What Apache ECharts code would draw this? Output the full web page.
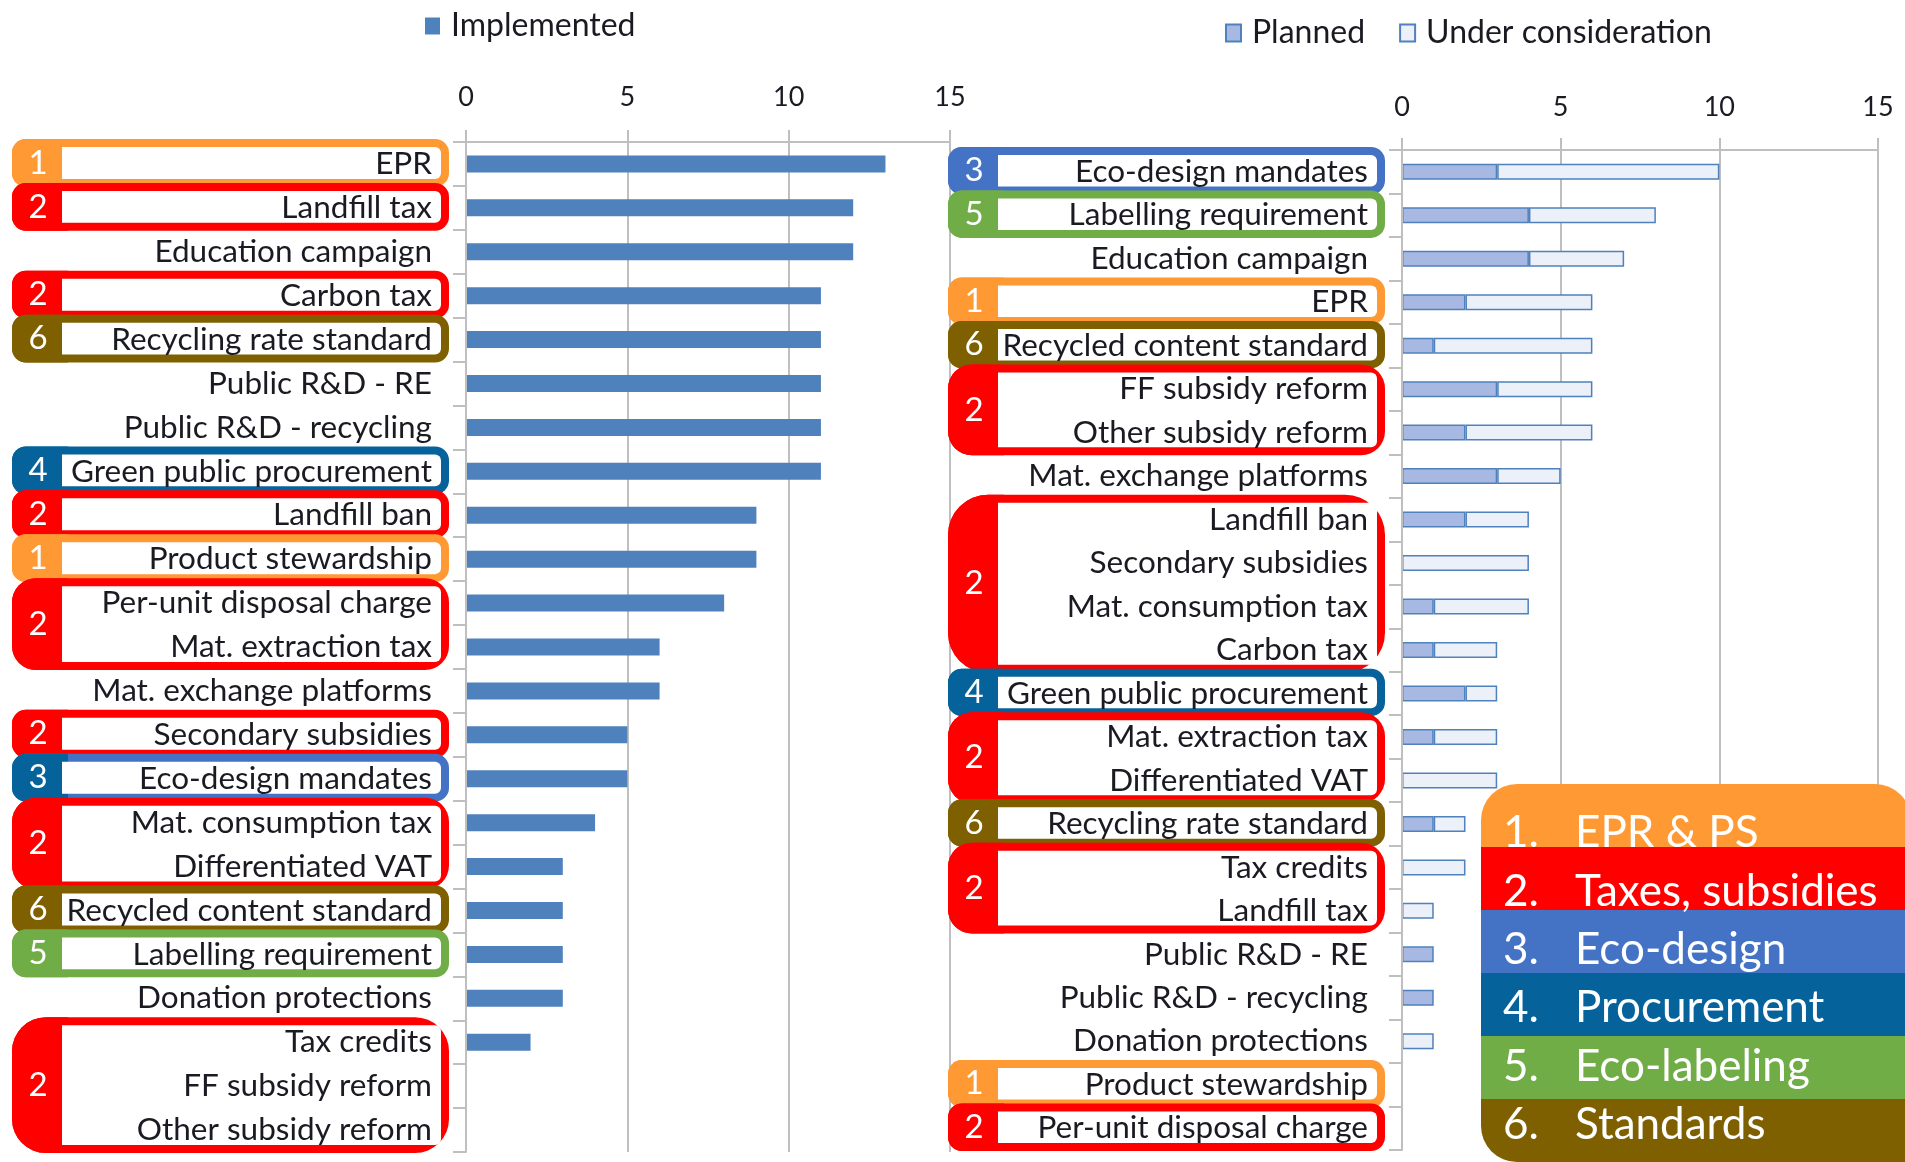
<!DOCTYPE html>
<html><head><meta charset="utf-8">
<script src="https://cdn.jsdelivr.net/npm/echarts@6/dist/echarts.min.js"></script>
<style>html,body{margin:0;padding:0;background:#fff}#c{width:1905px;height:1162px}</style>
</head><body><div id="c"></div><script>
// ---------- DATA ----------
const leftCategories = ['EPR','Landfill tax','Education campaign','Carbon tax','Recycling rate standard','Public R&D - RE','Public R&D - recycling','Green public procurement','Landfill ban','Product stewardship','Per-unit disposal charge','Mat. extraction tax','Mat. exchange platforms','Secondary subsidies','Eco-design mandates','Mat. consumption tax','Differentiated VAT','Recycled content standard','Labelling requirement','Donation protections','Tax credits','FF subsidy reform','Other subsidy reform'];
const implemented = [13,12,12,11,11,11,11,11,9,9,8,6,6,5,5,4,3,3,3,3,2,0,0];

const rightCategories = ['Eco-design mandates','Labelling requirement','Education campaign','EPR','Recycled content standard','FF subsidy reform','Other subsidy reform','Mat. exchange platforms','Landfill ban','Secondary subsidies','Mat. consumption tax','Carbon tax','Green public procurement','Mat. extraction tax','Differentiated VAT','Recycling rate standard','Tax credits','Landfill tax','Public R&D - RE','Public R&D - recycling','Donation protections','Product stewardship','Per-unit disposal charge'];
const planned            = [3,4,4,2,1,3,2,3,2,0,1,1,2,1,0,1,0,0,1,1,0,0,0];
const underConsideration = [7,4,3,4,5,3,4,2,2,4,3,2,1,2,3,1,2,1,0,0,1,0,0];

const axisMin = 0, axisMax = 15, axisInterval = 5;

const groupNames = ['EPR & PS','Taxes, subsidies','Eco-design','Procurement','Eco-labeling','Standards'];
// [first category, last category, group number, (optional) tab group number]
const leftGroups = [
  ['EPR','EPR',1],
  ['Landfill tax','Landfill tax',2],
  ['Carbon tax','Carbon tax',2],
  ['Recycling rate standard','Recycling rate standard',6],
  ['Green public procurement','Green public procurement',4],
  ['Landfill ban','Landfill ban',2],
  ['Product stewardship','Product stewardship',1],
  ['Per-unit disposal charge','Mat. extraction tax',2],
  ['Secondary subsidies','Secondary subsidies',2],
  ['Eco-design mandates','Eco-design mandates',3,4],
  ['Mat. consumption tax','Differentiated VAT',2],
  ['Recycled content standard','Recycled content standard',6],
  ['Labelling requirement','Labelling requirement',5],
  ['Tax credits','Other subsidy reform',2]
];
const rightGroups = [
  ['Eco-design mandates','Eco-design mandates',3],
  ['Labelling requirement','Labelling requirement',5],
  ['EPR','EPR',1],
  ['Recycled content standard','Recycled content standard',6],
  ['FF subsidy reform','Other subsidy reform',2],
  ['Landfill ban','Carbon tax',2],
  ['Green public procurement','Green public procurement',4],
  ['Mat. extraction tax','Differentiated VAT',2],
  ['Recycling rate standard','Recycling rate standard',6],
  ['Tax credits','Landfill tax',2],
  ['Product stewardship','Product stewardship',1],
  ['Per-unit disposal charge','Per-unit disposal charge',2]
];

// ---------- STYLE ----------
const FONT = 'Lato';
const TEXT = '#1a1a22';
const GRIDC = '#BFBFBF';
const groupColors = ['#FF9933','#FF0000','#4472C4','#05629A','#70AD47','#7F6000'];

const chart = echarts.init(document.getElementById('c'), null, {renderer:'canvas'});

function xAxisCfg(gi, margin){
  return {
    type:'value', gridIndex:gi, position:'top', min:axisMin, max:axisMax, interval:axisInterval,
    axisLine:{show:true, lineStyle:{color:GRIDC, width:2}},
    axisTick:{show:true, length:12, lineStyle:{color:GRIDC, width:2}},
    splitLine:{show:true, lineStyle:{color:GRIDC, width:2}},
    axisLabel:{margin:margin, fontFamily:FONT, fontSize:27, color:TEXT}
  };
}
function yAxisCfg(gi, cats){
  return {
    type:'category', gridIndex:gi, inverse:true, data:cats, z:5,
    axisLine:{show:true, lineStyle:{color:GRIDC, width:2}},
    axisTick:{show:true, length:13, lineStyle:{color:GRIDC, width:2}},
    axisLabel:{margin:34, fontFamily:FONT, fontSize:31.5, color:TEXT, interval:0}
  };
}
function boxSeries(groups, cats, idx){
  return {
    type:'custom', xAxisIndex:idx, yAxisIndex:idx, z:1, silent:true, clip:false,
    encode:{x:0, y:1},
    data: groups.map(g => [0, cats.indexOf(g[0]), cats.indexOf(g[1]), g[2], g[3] || g[2]]),
    renderItem(params, api){
      const s = api.value(1), e = api.value(2), grp = api.value(3), tab = api.value(4);
      const p0 = api.coord([0, s]), p1 = api.coord([0, e]);
      const band = api.size([0, 1])[1];
      const top = Math.min(p0[1], p1[1]) - band/2 - 3;
      const bottom = Math.max(p0[1], p1[1]) + band/2 + 1;
      const left = p0[0] - 454, right = p0[0] - 17;
      const n = e - s + 1;
      const r = [14, 24, 34, 40][Math.min(n, 4) - 1];
      const bw = 8, tabW = 50;
      const col = groupColors[grp - 1], tcol = groupColors[tab - 1];
      return {
        type:'group',
        children:[
          {type:'rect', shape:{x:left, y:top, width:right-left, height:bottom-top, r:r}, style:{fill:col}},
          {type:'rect', shape:{x:left, y:top, width:tabW+6, height:bottom-top, r:[r,0,0,r]}, style:{fill:tcol}},
          {type:'rect', shape:{x:left+tabW, y:top+bw, width:right-left-tabW-bw, height:bottom-top-2*bw, r:[0,6,6,0]}, style:{fill:'#fff'}},
          {type:'text', style:{text:String(grp), x:left+tabW/2+1, y:(top+bottom)/2, align:'center', verticalAlign:'middle', fill:'#fff', font:'33px ' + FONT}}
        ]
      };
    }
  };
}

// bottom-right category key
const keyLeft = 1481, keyTop = 784, keyBand = 63, keyW = 430;
const keyGraphics = [];
groupNames.forEach((name, i) => {
  const last = i === groupNames.length - 1;
  keyGraphics.push({type:'rect', z:100, shape:{x:keyLeft, y:keyTop + i*keyBand, width:keyW, height:keyBand + (last?0:1), r: i===0 ? [36,36,0,0] : (last ? [0,0,0,36] : 0)}, style:{fill:groupColors[i]}});
  const ty = keyTop + 49 + i*58.4;
  keyGraphics.push({type:'text', z:101, style:{text:(i+1)+'.', x:keyLeft+22, y:ty, verticalAlign:'middle', fill:'#fff', font:'44px ' + FONT}});
  keyGraphics.push({type:'text', z:101, style:{text:name, x:keyLeft+94, y:ty, verticalAlign:'middle', fill:'#fff', font:'44px ' + FONT}});
});

const option = {
  animation:false,
  backgroundColor:'#fff',
  textStyle:{fontFamily:FONT},
  grid:[
    {left:466, top:142, width:484, height:1010},
    {left:1402, top:150, width:476, height:1000}
  ],
  legend:[
    {data:['Implemented'], left:425, top:10, padding:0, itemWidth:15, itemHeight:17, icon:'rect',
     textStyle:{fontFamily:FONT, fontSize:32, color:TEXT, padding:[0,0,0,6]}},
    {data:['Planned','Under consideration'], left:1225, top:17, padding:0, itemGap:34, itemWidth:15, itemHeight:17, icon:'rect',
     textStyle:{fontFamily:FONT, fontSize:32, color:TEXT, padding:[0,0,0,6]}}
  ],
  xAxis:[xAxisCfg(0, 31), xAxisCfg(1, 29)],
  yAxis:[yAxisCfg(0, leftCategories), yAxisCfg(1, rightCategories)],
  series:[
    {name:'Implemented', type:'bar', xAxisIndex:0, yAxisIndex:0, barWidth:17, data:implemented,
     itemStyle:{color:'#4F81BD'}},
    {name:'Planned', type:'bar', xAxisIndex:1, yAxisIndex:1, stack:'r', barWidth:16,
     data:planned.map(v => v || null),
     itemStyle:{color:'#A7B9E3', borderColor:'#4F81BD', borderWidth:1.5}},
    {name:'Under consideration', type:'bar', xAxisIndex:1, yAxisIndex:1, stack:'r', barWidth:16,
     data:underConsideration.map(v => v || null),
     itemStyle:{color:'#EBF0F9', borderColor:'#4F81BD', borderWidth:1.5}},
    boxSeries(leftGroups, leftCategories, 0),
    boxSeries(rightGroups, rightCategories, 1)
  ],
  graphic: keyGraphics
};
chart.setOption(option);
</script></body></html>
